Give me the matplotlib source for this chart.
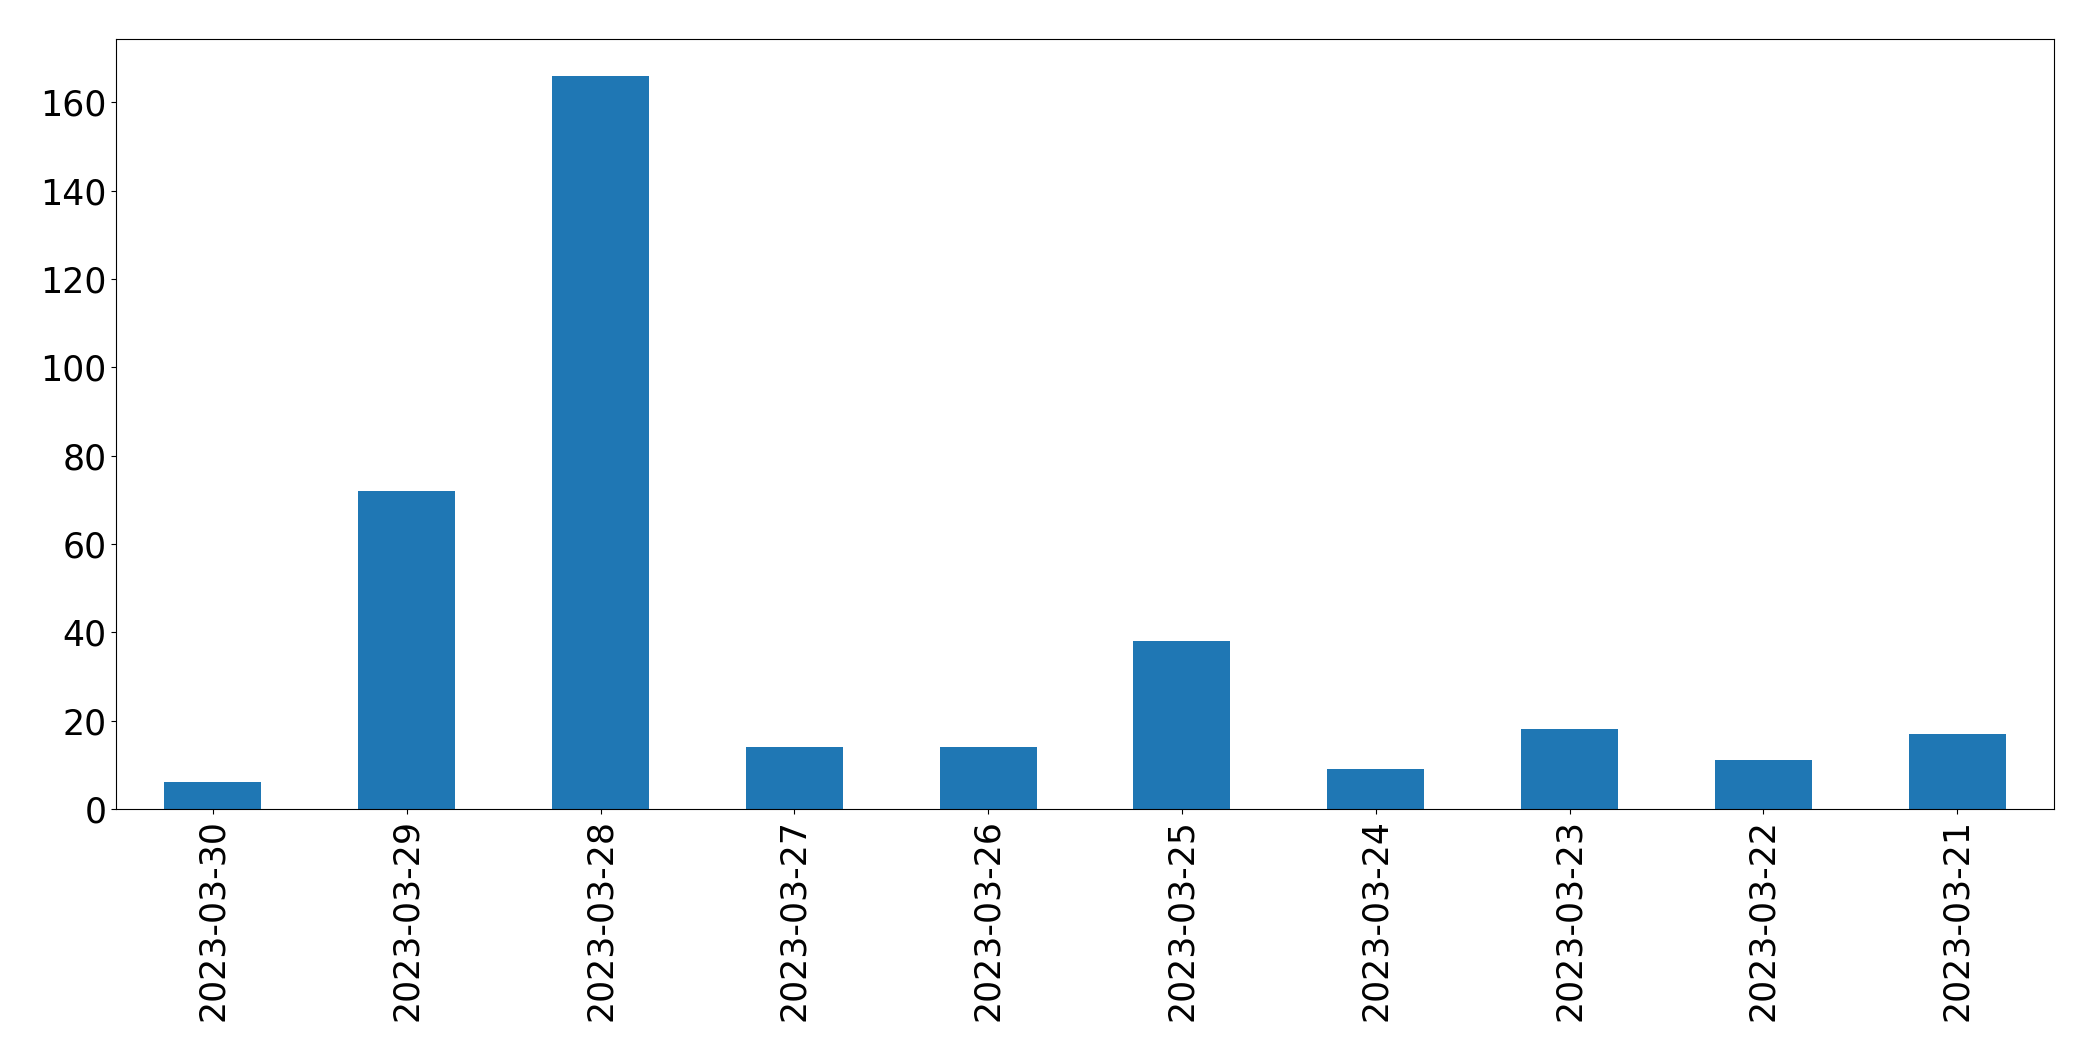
import pandas as pd
import matplotlib
matplotlib.use("Agg")
import matplotlib.pyplot as plt

dates = ["2023-03-30", "2023-03-29", "2023-03-28", "2023-03-27", "2023-03-26",
         "2023-03-25", "2023-03-24", "2023-03-23", "2023-03-22", "2023-03-21"]
counts = [6, 72, 166, 14, 14, 38, 9, 18, 11, 17]

s = pd.Series(counts, index=dates)

fig = plt.figure(figsize=(20.93, 10.61), dpi=100)
ax = fig.add_axes([116/2093, 1 - 809/1061, (2054 - 116)/2093, (809 - 39)/1061])
s.plot(kind="bar", ax=ax, fontsize=25)

fig.savefig("out.png", dpi=100)
